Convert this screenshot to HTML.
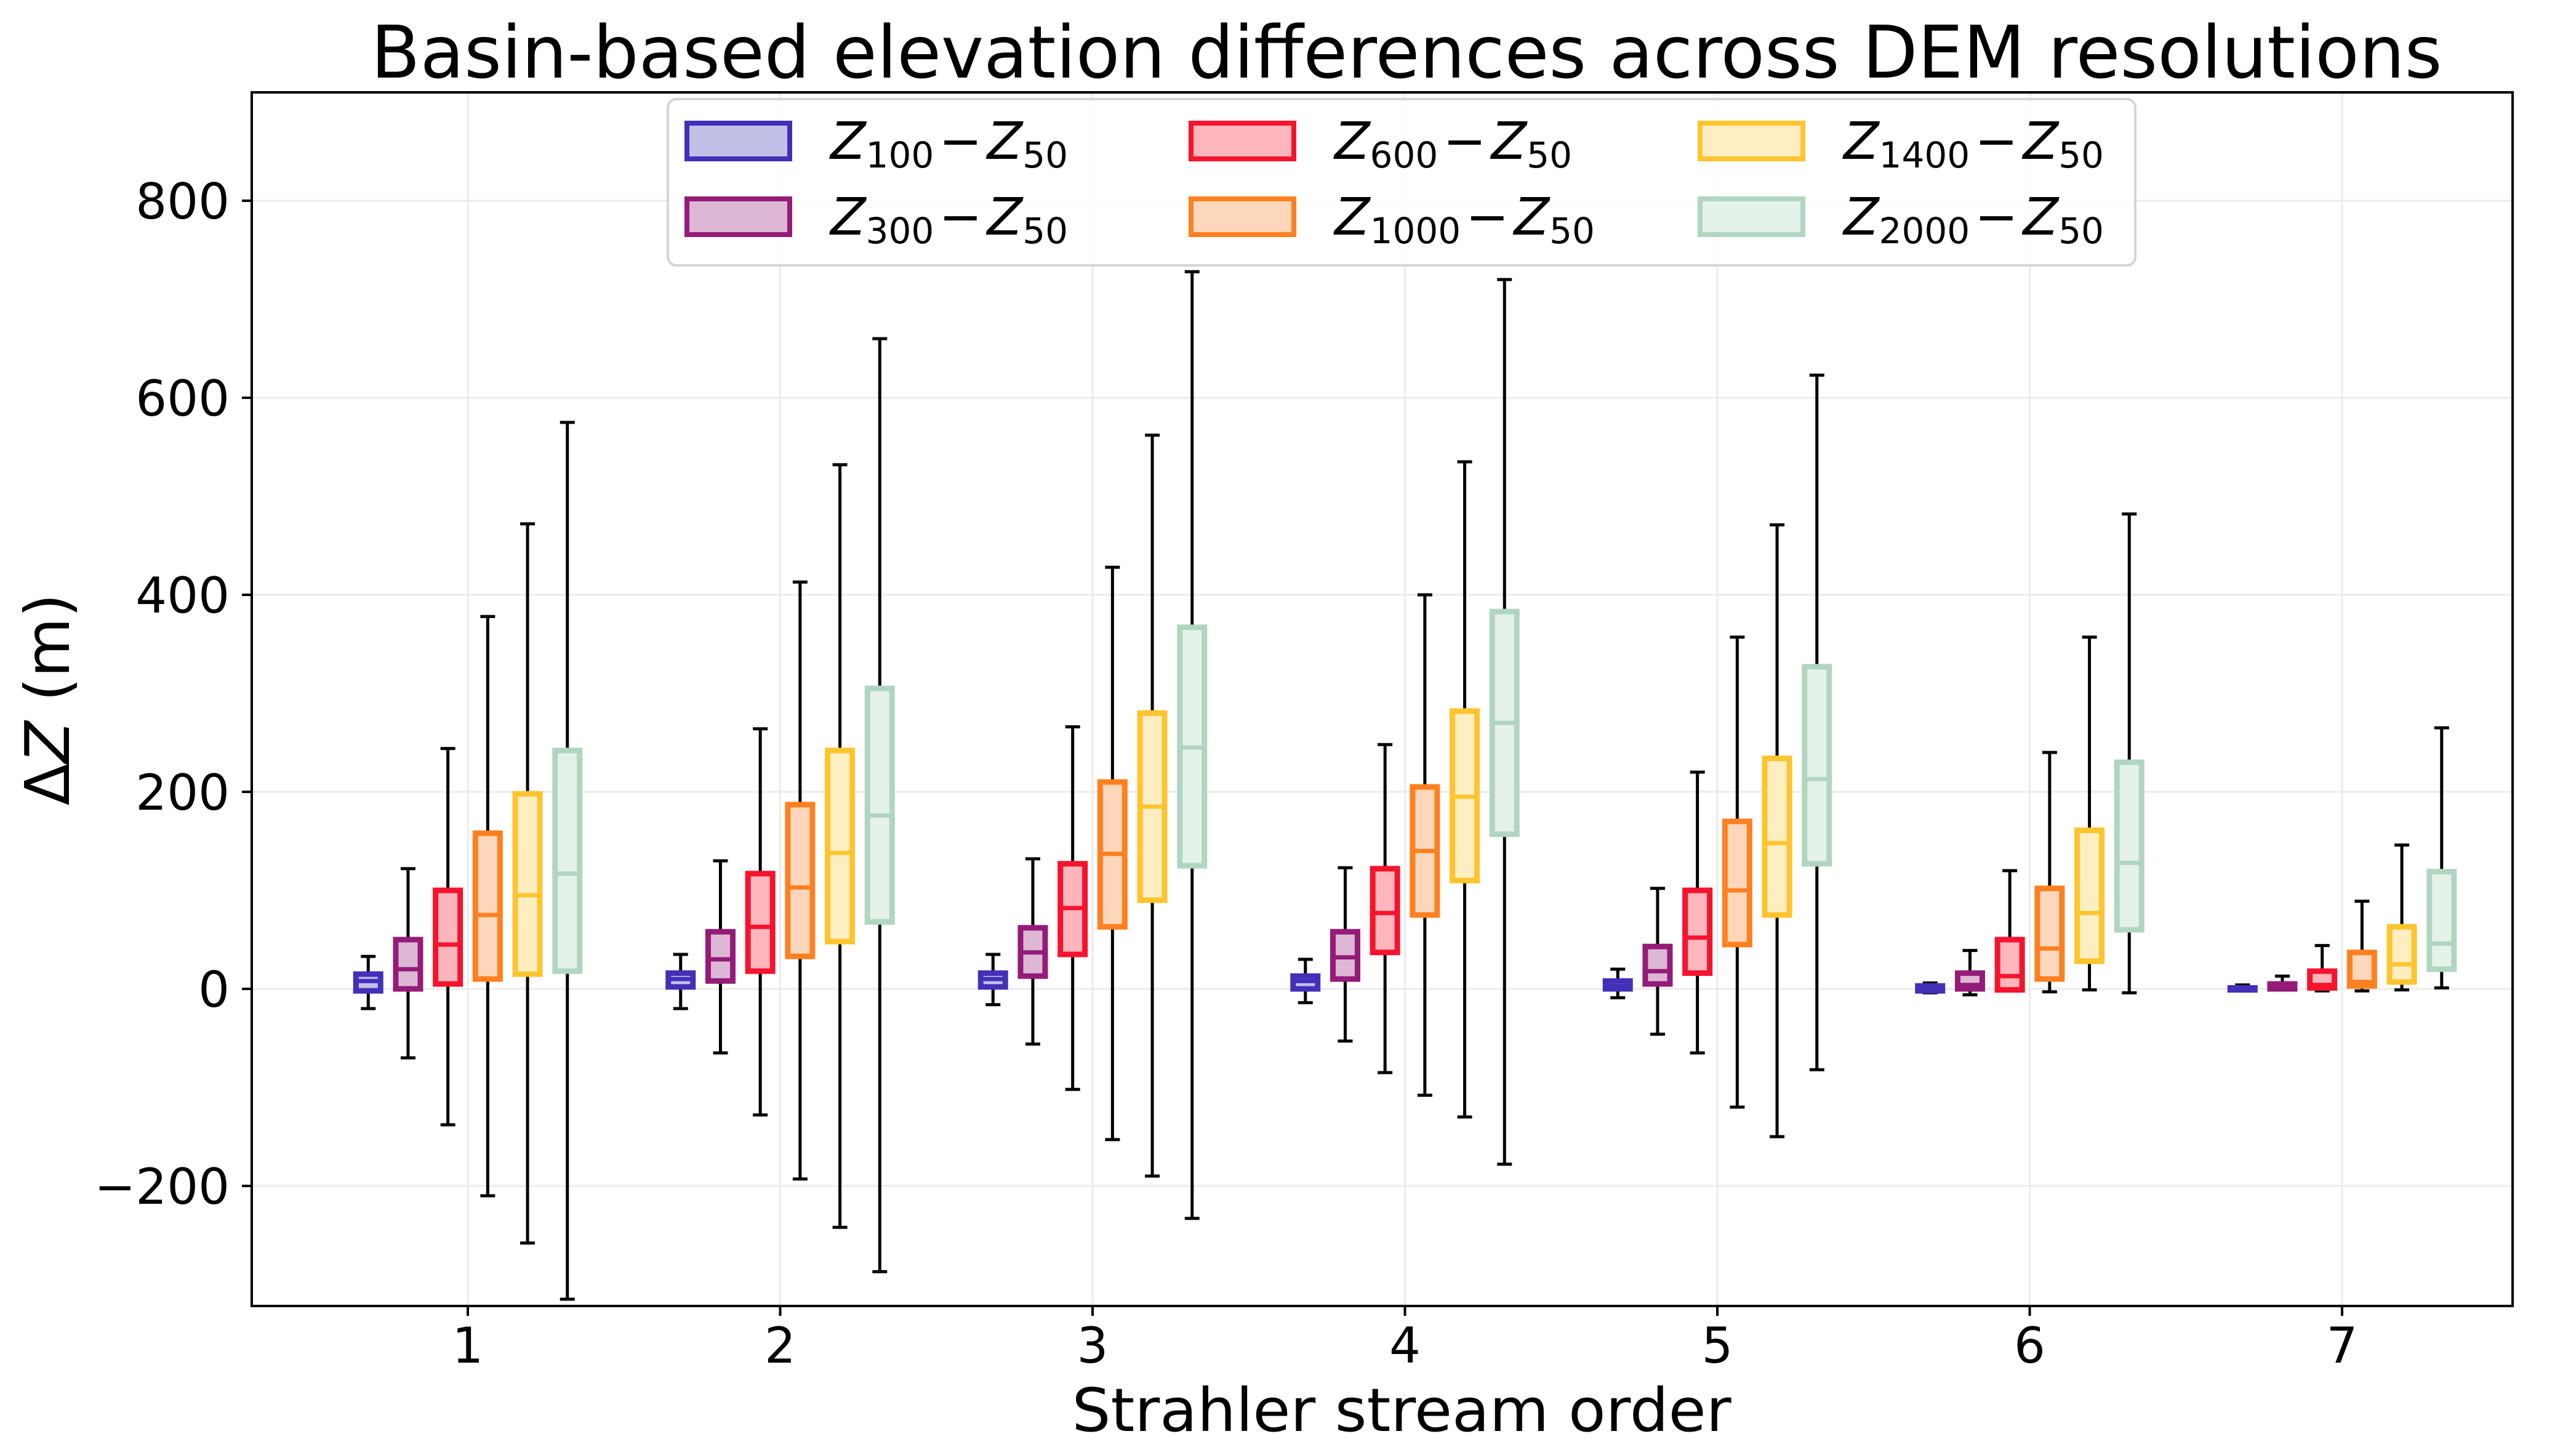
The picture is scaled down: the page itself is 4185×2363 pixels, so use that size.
<!DOCTYPE html>
<html><head><meta charset="utf-8"><title>Basin-based elevation differences</title>
<style>html,body{margin:0;padding:0;background:#fff}svg{display:block}text{font-family:"DejaVu Sans","Liberation Sans",sans-serif}</style>
</head><body>
<svg id="chart" xmlns="http://www.w3.org/2000/svg" width="4185" height="2363" viewBox="0 0 4185 2363">
<rect x="0" y="0" width="4185" height="2363" fill="#fff"/>
<g id="grid"></g>
<g id="boxes"></g>
<rect x="409" y="150" width="3673" height="1971" fill="none" stroke="#000" stroke-width="4"/>
<g id="ticks"></g>
<text x="2285" y="126" font-size="118" text-anchor="middle" textLength="3365" lengthAdjust="spacingAndGlyphs">Basin-based elevation differences across DEM resolutions</text>
<text x="2277" y="2324" font-size="97" text-anchor="middle" textLength="1071" lengthAdjust="spacingAndGlyphs">Strahler stream order</text>
<text transform="translate(112,1136) rotate(-90)" font-size="100" text-anchor="middle">Δ<tspan font-style="italic">Z</tspan> (m)</text>
<g id="legend"></g>
</svg>
<script>
const categories = [1,2,3,4,5,6,7];
const seriesNames = ["100","300","600","1000","1400","2000"];
const edgeColors = ["#4230b8","#951b78","#f5132d","#ff8020","#ffc42e","#b0d5c0"];
const faceColors = ["#c3c0e8","#dcb8d4","#fcb6bc","#fcd7bb","#ffeec1","#e4f2e9"];
const yTicks = [-200,0,200,400,600,800];
// each: [whiskerLow, q1, median, q3, whiskerHigh] per category
const s100  = [[-20,-2,8,15,33],[-20,2,10,16,35],[-16,2,10,16,35],[-14,0,8,13,30],[-9,0,3,8,20],[-4,-2,1,3,6],[-2,-1,0,1,4]];
const s300  = [[-70,0,20,50,122],[-65,8,30,58,130],[-56,13,37,62,132],[-53,10,32,58,123],[-46,5,18,43,102],[-6,0,4,16,39],[0,0,2,5,13]];
const s600  = [[-138,5,45,100,244],[-128,18,63,117,264],[-102,35,82,127,266],[-85,37,77,122,248],[-65,16,52,100,220],[-2,-1,13,50,120],[-2,1,4,18,44]];
const s1000 = [[-210,10,75,158,378],[-193,33,103,187,413],[-153,63,137,210,428],[-108,75,140,205,400],[-120,45,100,170,357],[-3,10,41,102,240],[-2,3,7,37,89]];
const s1400 = [[-258,15,95,198,472],[-242,48,138,242,532],[-190,90,185,280,562],[-130,110,195,282,535],[-150,75,148,234,471],[-1,28,77,161,357],[-1,7,25,63,146]];
const s2000 = [[-315,18,117,242,575],[-287,68,176,305,660],[-233,125,245,367,728],[-178,157,270,383,720],[-82,127,213,327,623],[-4,60,128,230,482],[1,20,46,119,265]];
const series = [s100,s300,s600,s1000,s1400,s2000];

const NS="http://www.w3.org/2000/svg";
const X0=409, X1=4082, Y0=150, Y1=2121;
const xv=v=>760+(v-1)*507.5;
const yv=v=>1606-v*1.6;
function mk(tag,attrs,parent){const e=document.createElementNS(NS,tag);for(const k in attrs)e.setAttribute(k,attrs[k]);parent.appendChild(e);return e;}
const grid=document.getElementById('grid'), boxes=document.getElementById('boxes'), ticks=document.getElementById('ticks'), legend=document.getElementById('legend');

categories.forEach(c=>{
  const g=mk('line',{x1:xv(c),x2:xv(c),y1:Y0,y2:Y1,stroke:"#ebebeb","stroke-width":3},grid);
  
  
  const t=mk('line',{x1:xv(c),x2:xv(c),y1:Y1,y2:Y1+16,stroke:"#000","stroke-width":4},ticks);
  
  
  const l=mk('text',{x:xv(c),y:2213,"font-size":80,"text-anchor":"middle"},ticks);
  l.textContent=String(c);
  
  
});
yTicks.forEach(v=>{
  const g=mk('line',{x1:X0,x2:X1,y1:yv(v),y2:yv(v),stroke:"#ebebeb","stroke-width":3},grid);
  
  
  const t=mk('line',{x1:X0-16,x2:X0,y1:yv(v),y2:yv(v),stroke:"#000","stroke-width":4},ticks);
  
  
  const l=mk('text',{x:373,y:yv(v)+29,"font-size":80,"text-anchor":"end"},ticks);
  l.textContent=(v<0?"\u2212":"")+Math.abs(v);
  
  
});

const step=64.7, bw=40, cap=12;
series.forEach((s,si)=>{
  s.forEach((d,ci)=>{
    const cx=xv(categories[ci])+(si-2.5)*step;
    const [wl,q1,md,q3,wh]=d;
    const g=mk('g',{},boxes);
    
    
    mk('line',{x1:cx,x2:cx,y1:yv(wh),y2:yv(q3),stroke:"#000","stroke-width":5},g);
    mk('line',{x1:cx,x2:cx,y1:yv(q1),y2:yv(wl),stroke:"#000","stroke-width":5},g);
    mk('line',{x1:cx-cap,x2:cx+cap,y1:yv(wh),y2:yv(wh),stroke:"#000","stroke-width":5},g);
    mk('line',{x1:cx-cap,x2:cx+cap,y1:yv(wl),y2:yv(wl),stroke:"#000","stroke-width":5},g);
    const top=yv(q3), bot=yv(q1);
    mk('rect',{x:cx-bw/2,y:top,width:bw,height:Math.max(bot-top,0.5),fill:faceColors[si],stroke:edgeColors[si],"stroke-width":9},g);
    mk('line',{x1:cx-bw/2,x2:cx+bw/2,y1:yv(md),y2:yv(md),stroke:edgeColors[si],"stroke-width":7},g);
  });
});

// legend
const lb=mk('rect',{x:1085,y:161,width:2384,height:270,rx:14,fill:"#fff","fill-opacity":0.85,stroke:"#d5d5d5","stroke-width":4},legend);


const colX=[1112,1931,2758], rowY=[196,319];
seriesNames.forEach((n,i)=>{
  const col=Math.floor(i/2), row=i%2;
  const g=mk('g',{},legend);
  
  
  mk('rect',{x:colX[col]+4,y:rowY[row]+4,width:167,height:58,fill:faceColors[i],stroke:edgeColors[i],"stroke-width":8},g);
  const t=mk('text',{x:colX[col]+237,y:rowY[row]+62,"font-size":84},g);
  t.innerHTML='<tspan font-style="italic">Z</tspan><tspan font-size="58" dy="14">'+n+'</tspan><tspan dy="-14" dx="8">\u2212</tspan><tspan font-style="italic" dx="8">Z</tspan><tspan font-size="58" dy="14">50</tspan>';
});
</script>
</body></html>
